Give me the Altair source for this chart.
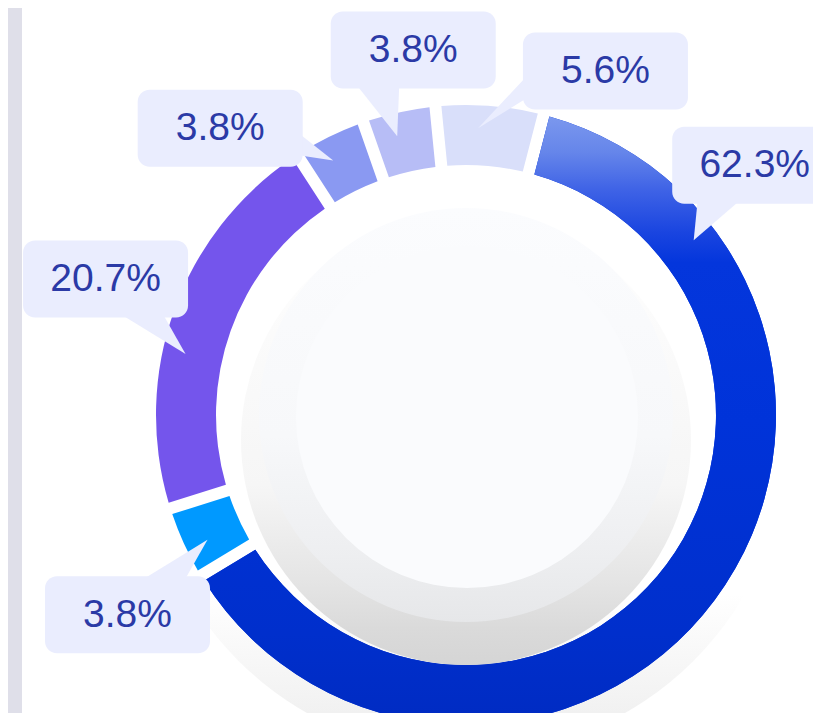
import math
import altair as alt
import pandas as pd

# ---------------- data ----------------
shares = [62.3, 3.8, 20.7, 3.8, 3.8, 5.6]
slice_colors = ["#0033d9", "#0099ff", "#7455ec", "#8a99f2", "#b7bdf6", "#d9dffa"]
label_texts = [f"{v:.1f}%" for v in shares]

# ---------------- layout constants ----------------
W, H = 805, 705            # plot size (px)
CX, CY = 458, 407          # donut centre inside plot (px)
R_OUT, R_IN = 310, 250
START_DEG = 14.5           # start angle of first slice (clockwise from 12 o'clock)
PAD = 0.03
BOX_W, BOX_H = 165, 77
TIP_R = 287
LABEL_SKEW = 15            # callout frame rotation (deg)
FONT_SIZE = 39
BOX_FILL = "#eaedfe"
TEXT_COLOR = "#2b3aa6"

total = sum(shares)
starts, ends = [], []
acc = 0.0
for v in shares:
    starts.append(acc / total * 100)
    acc += v
    ends.append(acc / total * 100)

ring = pd.DataFrame({"k": list(range(len(shares))), "start": starts, "end": ends,
                     "X": 0.0, "Y": 0.0})


def polar(deg, r):
    a = math.radians(deg)
    return r * math.sin(a), -r * math.cos(a)   # (dx, dy pointing down)


# ---- callout layout computed from slice angles ----
tips, phi, rho = [], [], []
for i, v in enumerate(shares):
    s_deg = START_DEG + starts[i] * 3.6
    span = v / total * 360
    ang = s_deg + min(0.4 * span, 38)
    tx, ty = polar(ang, TIP_R)
    tips.append((tx, ty))
    a = math.radians(ang)
    ox = 80 * max(-1.0, min(1.0, math.sin(math.radians(ang + LABEL_SKEW)) / 0.4))
    oy = (75 + 10 * (1 - abs(ox) / 80)) * (-1 if math.cos(a) >= 0 else 1)
    bx, by = tx + ox, ty + oy
    phi.append(math.degrees(math.atan2(bx, -by)) % 360)
    rho.append(math.hypot(bx, by))

n = len(shares)
for it in range(4000):
    moved = False
    pos = [polar(phi[i], rho[i]) for i in range(n)]
    for i in range(n):
        for j in range(i + 1, n):
            dx = pos[i][0] - pos[j][0]
            dy = pos[i][1] - pos[j][1]
            if abs(dx) < BOX_W + 27 and abs(dy) < BOX_H + 3:
                d = ((phi[j] - phi[i] + 180) % 360) - 180
                s = 0.1 if d >= 0 else -0.1
                phi[j] += s
                phi[i] -= s
                moved = True
    if not moved:
        break


def text_half(t):
    return 0.5 * FONT_SIZE * sum(0.889 if ch == "%" else (0.278 if ch == "." else 0.556) for ch in t)


boxes = []
for i in range(n):
    bx, by = polar(phi[i], rho[i])
    lim = (W - CX) - text_half(label_texts[i]) - 3   # keep label text inside drawing area
    boxes.append((min(bx, lim), by))

box_rows, text_rows, ptr_rows = [], [], []
for i in range(n):
    bx, by = boxes[i]
    tx, ty = tips[i]
    box_rows.append({"g": i, "x1": bx - BOX_W / 2, "x2": bx + BOX_W / 2,
                     "y1": -(by - BOX_H / 2), "y2": -(by + BOX_H / 2)})
    text_rows.append({"g": i, "X": bx, "Y": -by, "t": label_texts[i]})
    ddx, ddy = tx - bx, ty - by
    sgx = 1 if ddx >= 0 else -1
    sgy = 1 if ddy >= 0 else -1
    if abs(ddx) / (BOX_W / 2) > abs(ddy) / (BOX_H / 2):
        ex = bx + sgx * (BOX_W / 2 - 4)
        p1 = (ex, by + sgy * 5)
        p2 = (ex, by + sgy * 27)
    else:
        ey = by + sgy * (BOX_H / 2 - 4)
        p1 = (bx + sgx * 14, ey)
        p2 = (bx + sgx * 57, ey)
    for o, (px, py) in enumerate([p1, (tx, ty), p2]):
        ptr_rows.append({"g": i, "o": o, "X": px, "Y": -py})

boxes_df = pd.DataFrame(box_rows)
texts_df = pd.DataFrame(text_rows)
ptr_df = pd.DataFrame(ptr_rows)

# ---------------- scales ----------------
xs = alt.Scale(domain=[-CX, W - CX], nice=False, zero=False)
ys = alt.Scale(domain=[-(H - CY), CY], nice=False, zero=False)
ts = alt.Scale(domain=[0, 100], range=[math.radians(START_DEG), math.radians(START_DEG) + 2 * math.pi])


def X(f):
    return alt.X(f, type="quantitative", scale=xs, axis=None)


def Y(f):
    return alt.Y(f, type="quantitative", scale=ys, axis=None)


def lin(stops):
    return alt.LinearGradient(gradient="linear", x1=0, y1=0, x2=0, y2=1,
                              stops=[alt.GradientStop(offset=o, color=c) for o, c in stops])


def disc(dx, dy, r, fill):
    df = pd.DataFrame({"X": [dx], "Y": [dy]})
    return alt.Chart(df).mark_arc(radius=r, radius2=0, theta=0, theta2=2 * math.pi,
                                  fill=fill).encode(x=X("X"), y=Y("Y"))


left_bar = alt.Chart(pd.DataFrame({"a": [0]})).mark_rect(color="#dfdfe9").encode(
    x=alt.value(0), x2=alt.value(14), y=alt.value(0), y2=alt.value(H))

outer_shadow = disc(0, -18, 322, lin([(0, "#ffffff"), (0.75, "#ffffff"), (1, "#ececec")]))

ring_layer = alt.Chart(ring).mark_arc(radius=R_OUT, radius2=R_IN, padAngle=PAD).encode(
    x=X("X"), y=Y("Y"),
    theta=alt.Theta("start:Q", scale=ts, stack=None),
    theta2="end:Q",
    color=alt.Color("k:N", scale=alt.Scale(domain=list(range(n)), range=slice_colors), legend=None),
)

big_grad = lin([(0, "#7b98ee"), (0.06, "#6585ea"), (0.12, "#3f63e6"), (0.19, "#1a45e0"),
                (0.24, "#0436dc"), (0.5, "#0033d9"), (0.85, "#002fcc"), (1, "#002bc2")])
big_layer = alt.Chart(ring[ring["k"] == 0]).mark_arc(
    radius=R_OUT, radius2=R_IN, padAngle=PAD, fill=big_grad).encode(
    x=X("X"), y=Y("Y"),
    theta=alt.Theta("start:Q", scale=ts, stack=None),
    theta2="end:Q",
)

inner_shadow = disc(0, -25, 225, lin([(0, "#ffffff"), (0.6, "#f6f6f6"), (0.82, "#e4e4e4"),
                                       (0.92, "#dadada"), (1, "#d5d5d5")]))
mid_disc = disc(0, 0, 207, lin([(0, "#fbfcfe"), (0.55, "#f7f8fa"), (0.82, "#eeeff1"), (1, "#e6e7e9")]))
top_disc = disc(1, -2, 171, "#fafbfd")

pointers = alt.Chart(ptr_df).mark_line(interpolate="linear-closed", filled=True,
                                       color=BOX_FILL).encode(
    x=X("X"), y=Y("Y"), detail="g:N", order="o:Q")

box_layer = alt.Chart(boxes_df).mark_rect(cornerRadius=12, color=BOX_FILL).encode(
    x=X("x1"), x2="x2", y=Y("y1"), y2="y2")

text_layer = alt.Chart(texts_df).mark_text(font="Liberation Sans", fontSize=FONT_SIZE, color=TEXT_COLOR,
                                           align="center", baseline="middle").encode(
    x=X("X"), y=Y("Y"), text="t:N")

chart = alt.layer(left_bar, outer_shadow, ring_layer, big_layer, inner_shadow, mid_disc, top_disc,
                  pointers, box_layer, text_layer).properties(
    width=W, height=H, padding=0, autosize=alt.AutoSizeParams(type="none"),
    background="white",
).configure_view(stroke=None)

chart.save("out.html", embed_options={"renderer": "svg", "actions": False})
